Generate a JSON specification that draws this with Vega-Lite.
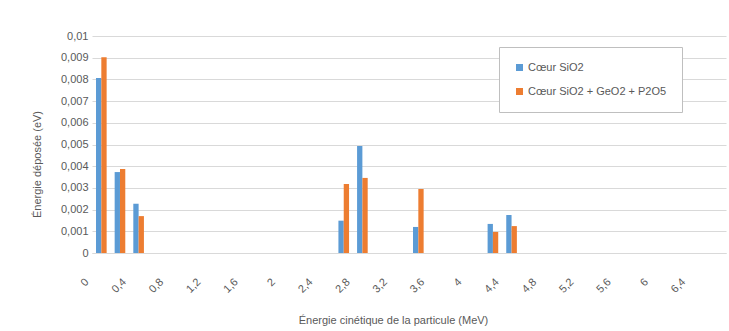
{
  "$schema": "https://vega.github.io/schema/vega-lite/v6.json",
  "width": 634,
  "height": 217,
  "autosize": {"type": "none"},
  "padding": {"left": 92, "top": 36, "right": 3, "bottom": 78},
  "background": "white",
  "config": {"view": {"stroke": null}, "font": "Liberation Sans"},
  "data": {
    "values": [
      {"energie": "0", "serie": "Cœur SiO2", "valeur": 0.00806},
      {"energie": "0", "serie": "Cœur SiO2 + GeO2 + P2O5", "valeur": 0.00902},
      {"energie": "0,2", "serie": "Cœur SiO2", "valeur": 0.00373},
      {"energie": "0,2", "serie": "Cœur SiO2 + GeO2 + P2O5", "valeur": 0.00387},
      {"energie": "0,4", "serie": "Cœur SiO2", "valeur": 0.00227},
      {"energie": "0,4", "serie": "Cœur SiO2 + GeO2 + P2O5", "valeur": 0.0017},
      {"energie": "2,6", "serie": "Cœur SiO2", "valeur": 0.00149},
      {"energie": "2,6", "serie": "Cœur SiO2 + GeO2 + P2O5", "valeur": 0.00318},
      {"energie": "2,8", "serie": "Cœur SiO2", "valeur": 0.00493},
      {"energie": "2,8", "serie": "Cœur SiO2 + GeO2 + P2O5", "valeur": 0.00346},
      {"energie": "3,4", "serie": "Cœur SiO2", "valeur": 0.0012},
      {"energie": "3,4", "serie": "Cœur SiO2 + GeO2 + P2O5", "valeur": 0.00295},
      {"energie": "4,2", "serie": "Cœur SiO2", "valeur": 0.00134},
      {"energie": "4,2", "serie": "Cœur SiO2 + GeO2 + P2O5", "valeur": 0.00097},
      {"energie": "4,4", "serie": "Cœur SiO2", "valeur": 0.00175},
      {"energie": "4,4", "serie": "Cœur SiO2 + GeO2 + P2O5", "valeur": 0.00124}
    ]
  },
  "mark": {"type": "bar"},
  "encoding": {
    "x": {
      "field": "energie",
      "type": "nominal",
      "sort": null,
      "scale": {
        "domain": ["0","0,2","0,4","0,6","0,8","1","1,2","1,4","1,6","1,8","2","2,2","2,4","2,6","2,8","3","3,2","3,4","3,6","3,8","4","4,2","4,4","4,6","4,8","5","5,2","5,4","5,6","5,8","6","6,2","6,4","6,6"],
        "paddingInner": 0.43,
        "paddingOuter": 0.215
      },
      "axis": {
        "values": ["0","0,4","0,8","1,2","1,6","2","2,4","2,8","3,2","3,6","4","4,4","4,8","5,2","5,6","6","6,4"],
        "labelAngle": -45,
        "labelAlign": "right",
        "labelBaseline": "middle",
        "labelOffset": -14,
        "labelPadding": 27,
        "ticks": false,
        "grid": false,
        "domainColor": "#D9D9D9",
        "labelColor": "#595959",
        "labelFontSize": 11,
        "title": "Énergie cinétique de la particule (MeV)",
        "titleFontWeight": "normal",
        "titleFontSize": 11,
        "titleColor": "#595959",
        "titleX": 301,
        "titleY": 67,
        "titleBaseline": "middle"
      }
    },
    "xOffset": {
      "field": "serie",
      "type": "nominal",
      "sort": ["Cœur SiO2", "Cœur SiO2 + GeO2 + P2O5"]
    },
    "y": {
      "field": "valeur",
      "type": "quantitative",
      "scale": {"domain": [0, 0.01], "nice": false},
      "axis": {
        "values": [0, 0.001, 0.002, 0.003, 0.004, 0.005, 0.006, 0.007, 0.008, 0.009, 0.01],
        "labelExpr": "replace(format(datum.value, '~g'), '.', ',')",
        "domain": false,
        "ticks": false,
        "gridColor": "#D9D9D9",
        "labelColor": "#595959",
        "labelFontSize": 11,
        "labelPadding": 4,
        "title": "Énergie déposée (eV)",
        "titleFontWeight": "normal",
        "titleFontSize": 11,
        "titleColor": "#595959",
        "titleX": -50,
        "titleY": 128
      }
    },
    "color": {
      "field": "serie",
      "type": "nominal",
      "scale": {
        "domain": ["Cœur SiO2", "Cœur SiO2 + GeO2 + P2O5"],
        "range": ["#5B9BD5", "#ED7D31"]
      },
      "legend": {
        "title": null,
        "orient": "none",
        "legendX": 407,
        "legendY": 11,
        "fillColor": "white",
        "strokeColor": "#BFBFBF",
        "padding": 15,
        "symbolType": "square",
        "symbolSize": 49,
        "symbolStrokeWidth": 0,
        "labelFontSize": 11,
        "labelColor": "#595959",
        "rowPadding": 12,
        "labelOffset": 3
      }
    }
  }
}
